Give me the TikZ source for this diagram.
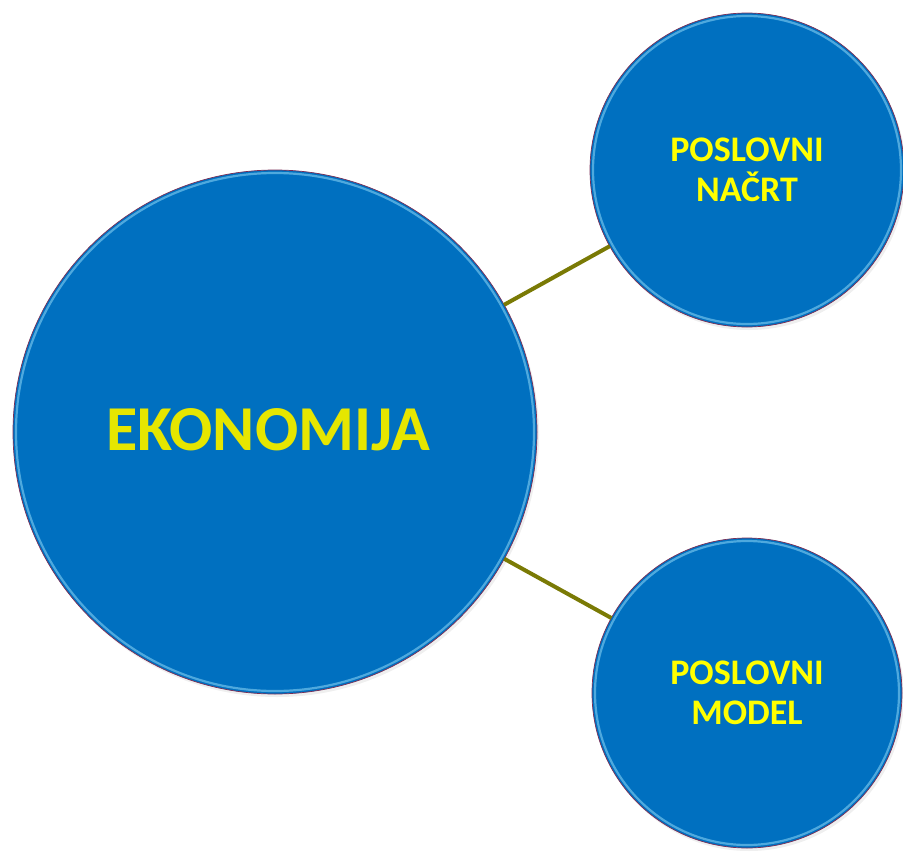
\documentclass[tikz,border=0pt]{standalone}
\usepackage{fontspec}
\setmainfont{Carlito}
\definecolor{discblue}{HTML}{0070C0}
\definecolor{discrim}{HTML}{7A2E55}
\definecolor{discglow}{HTML}{8FD8F8}
\definecolor{linkolive}{HTML}{7A7A05}
\definecolor{titleyellow}{HTML}{E6E600}
\definecolor{subyellow}{HTML}{FFFF00}
\tikzset{
  disc/.style={circle, fill=discblue, draw=discrim, line width=0.7pt,
    inner sep=0pt, outer sep=0pt, minimum size=#1},
  link/.style={draw=linkolive, line width=4pt},
  subtext/.style={text=subyellow, font=\bfseries\fontsize{36}{40}\selectfont, align=center},
  glow/.style={draw=discglow, line width=2.2pt, opacity=0.55},
  halo/.style={fill=black!25, opacity=0.25}
}
\begin{document}
\begin{tikzpicture}[x=1pt, y=-1pt]
  \useasboundingbox (0,0) rectangle (903,854);
  % soft shadows under the discs
  \fill[halo] (277,435) circle (262);
  \fill[halo] (749,173) circle (157);
  \fill[halo] (749,696) circle (155);
  % discs
  \node[disc=524pt] (eko) at (275,432) {};
  \node[disc=314pt, subtext] (plan) at (747,170) {POSLOVNI\\NAČRT};
  \node[disc=310pt, subtext] (model) at (747,693) {POSLOVNI\\MODEL};
  % bevel highlight just inside each rim
  \draw[glow] (eko.center) circle (259);
  \draw[glow] (plan.center) circle (154);
  \draw[glow] (model.center) circle (152);
  % main title
  \node[text=titleyellow, font=\bfseries\fontsize{64}{70}\selectfont] (ekotext) at (268,430) {EKONOMIJA};
  % connectors
  \draw[link] (eko) -- (plan);
  \draw[link] (eko) -- (model);
\end{tikzpicture}
\end{document}
